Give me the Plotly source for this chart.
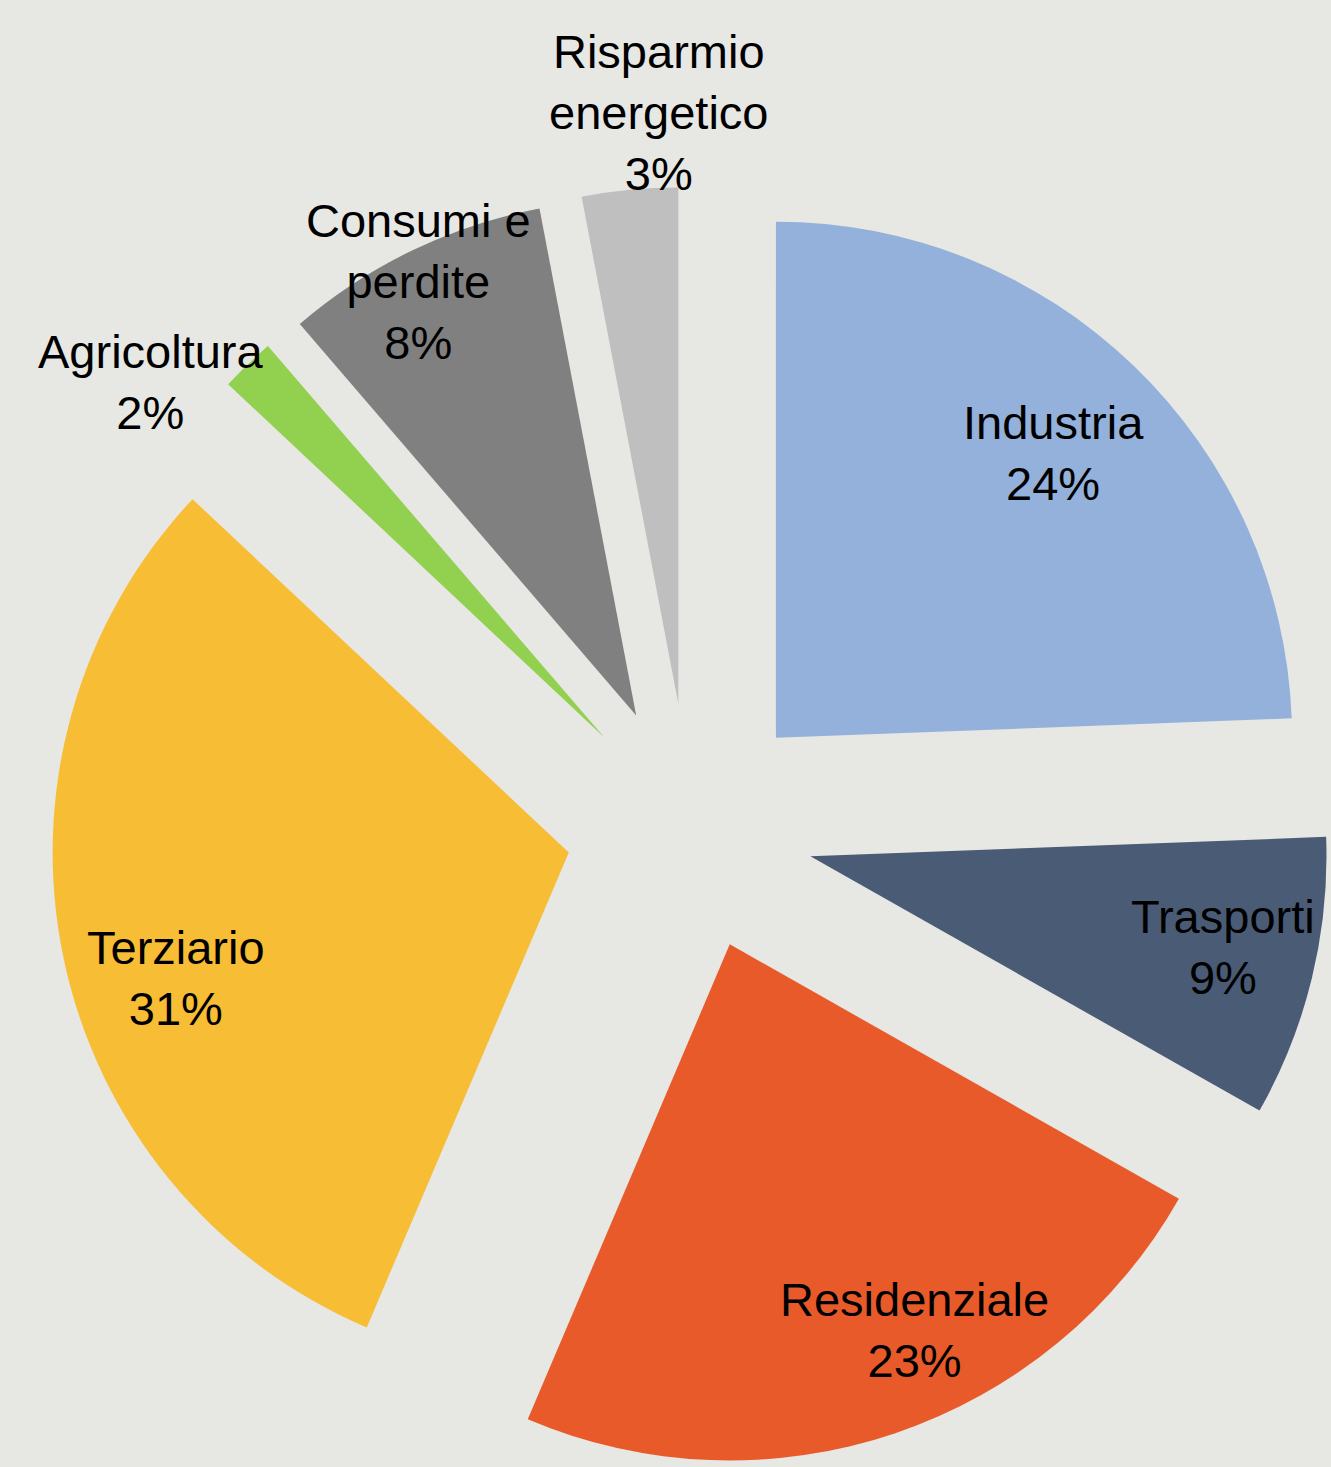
import math
import plotly.graph_objects as go

# ---- data ----
categories = ["Industria", "Trasporti", "Residenziale", "Terziario",
              "Agricoltura", "Consumi e perdite", "Risparmio energetico"]
display_labels = ["Industria", "Trasporti", "Residenziale", "Terziario",
                  "Agricoltura", "Consumi e<br>perdite", "Risparmio<br>energetico"]
values = [24.4, 8.8, 23.2, 30.6, 1.7, 8.3, 3.0]
colors = ["#93B1DA", "#4A5B75", "#E85A29", "#F7BD34",
          "#92D050", "#808080", "#BFBFBF"]
# label placement (style): distance from pie centre as fraction of radius,
# and angular offset (degrees) from the slice bisector
label_radius = [1.01, 1.058, 1.067, 1.038, 1.354, 1.181, 1.386]
label_dangle = [0.3, -1.0, -5.3, -4.5, -6.7, -0.7, 2.9]

# ---- layout geometry ----
W, H = 1331, 1467
CX, CY = 690, 827          # pie centre in pixels
R_TOT = 640                 # radius incl. pull
PULL = 0.24
r = R_TOT / (1 + PULL)

dom_x = [max(0, (CX - R_TOT) / W), min(1, (CX + R_TOT) / W)]
dom_y = [max(0, 1 - (CY + R_TOT) / H), min(1, 1 - (CY - R_TOT) / H)]

fig = go.Figure(go.Pie(
    labels=categories,
    values=values,
    sort=False,
    direction="clockwise",
    rotation=0,
    pull=PULL,
    marker=dict(colors=colors, line=dict(width=0)),
    textinfo="none",
    hoverinfo="label+percent",
    domain=dict(x=dom_x, y=dom_y),
    showlegend=False,
))

total = sum(values)
cum = 0.0
annotations = []
for lab, v, f, da in zip(display_labels, values, label_radius, label_dangle):
    mid = 2 * math.pi * (cum + v / 2) / total + math.radians(da)
    cum += v
    dx, dy = math.sin(mid), -math.cos(mid)
    px = CX + f * r * dx
    py = CY + f * r * dy
    pct = f"{round(v / total * 100)}%"
    annotations.append(dict(
        x=px / W, y=1 - py / H, xref="paper", yref="paper",
        text=f"{lab}<br>{pct}", showarrow=False,
        xanchor="center", yanchor="middle",
        font=dict(family="Liberation Sans, Arial, sans-serif", size=47, color="#000000"),
    ))

fig.update_layout(
    width=W, height=H,
    margin=dict(l=0, r=0, t=0, b=0),
    paper_bgcolor="#E7E7E3",
    plot_bgcolor="#E7E7E3",
    annotations=annotations,
)

fig.write_html(
    "out.html",
    config={"displayModeBar": False},
    post_script="document.body.style.margin='0';document.body.style.overflow='hidden';",
)
